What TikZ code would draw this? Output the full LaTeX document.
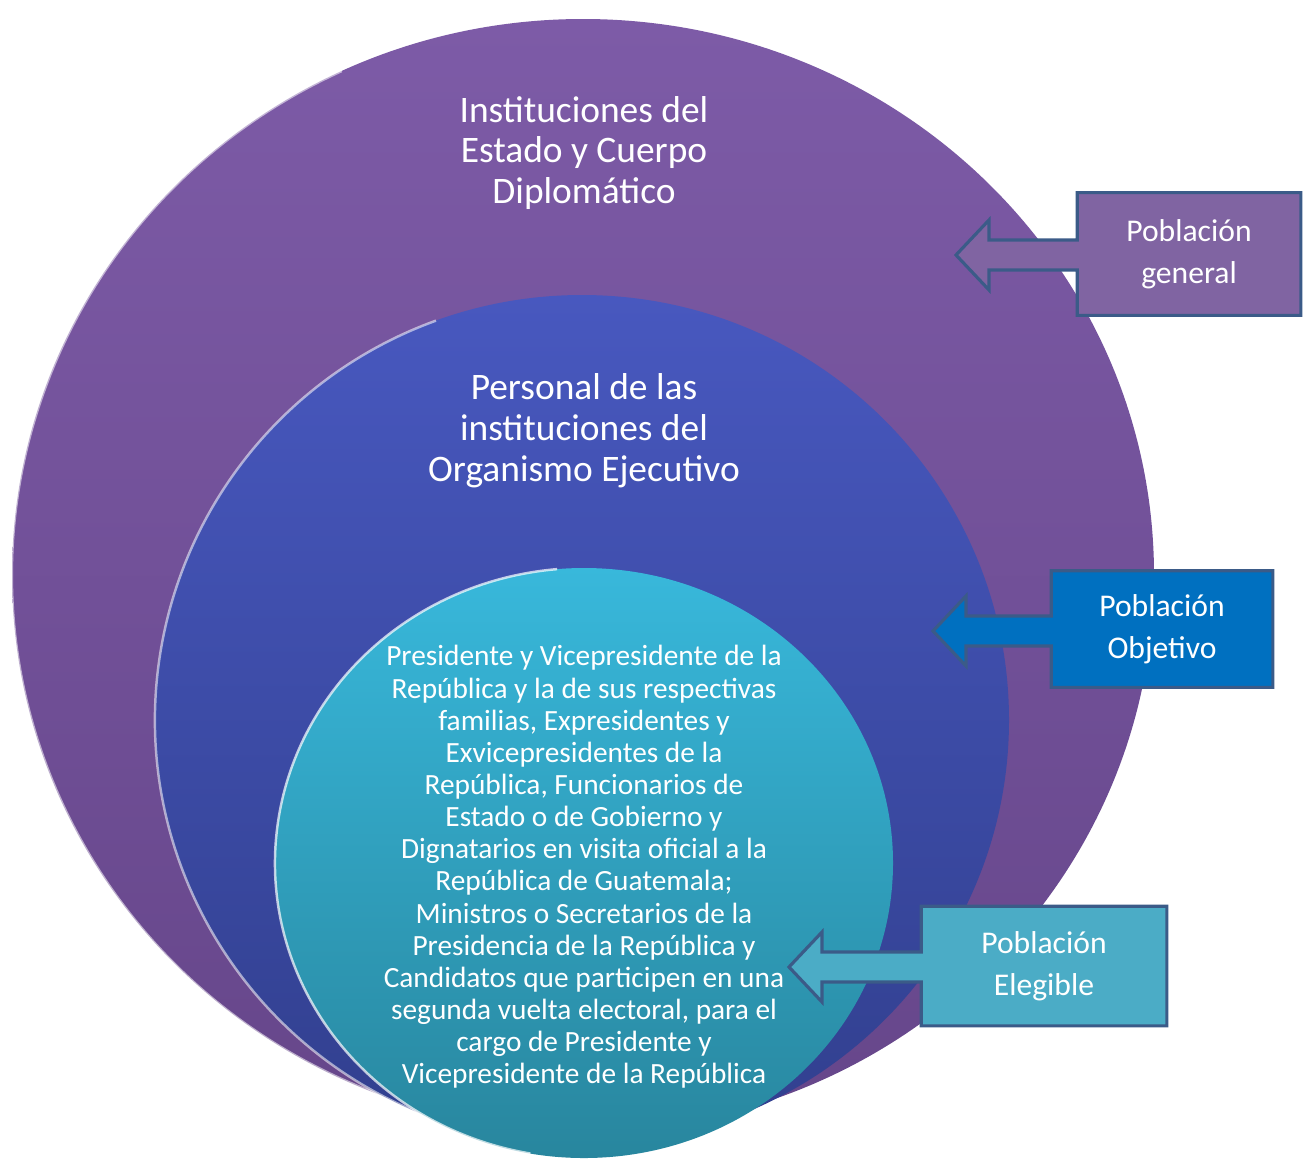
\documentclass[tikz,border=0pt]{standalone}
\usepackage{fontspec}
\setmainfont{Carlito}
\usetikzlibrary{calc,backgrounds}

\definecolor{outertop}{HTML}{7D5BA7}
\definecolor{outerbot}{HTML}{66468A}
\definecolor{midtop}{HTML}{4858BF}
\definecolor{midbot}{HTML}{313F8E}
\definecolor{innertop}{HTML}{38B8DB}
\definecolor{innerbot}{HTML}{28869E}
\definecolor{genfill}{HTML}{8064A2}
\definecolor{objfill}{HTML}{0070C0}
\definecolor{elefill}{HTML}{4BACC6}
\definecolor{calloutedge}{HTML}{3B5B88}

\tikzset{
  circtext/.style={text=white, align=center, font=\fontsize{21.3}{23.3}\selectfont},
  smalltext/.style={text=white, align=center, font=\fontsize{16.7}{18.3}\selectfont},
  boxtext/.style={text=white, align=center, font=\fontsize{18}{23.8}\selectfont,
    inner sep=0pt},
  callout/.style={draw=calloutedge, line width=1.8pt, line join=miter},
  gloss/.style={white, opacity=0.55, line width=1.4pt},
}

\begin{document}
\begin{tikzpicture}[x=0.02cm, y=-0.02cm]
  \useasboundingbox (0,0) rectangle (1310,1163);

  \node[circtext] (estado) at (584,153) {Instituciones del\\Estado y Cuerpo\\Diplomático};
  \node[circtext] (ejecutivo) at (584,431) {Personal de las\\instituciones del\\Organismo Ejecutivo};
  \node[smalltext] (elegibles) at (584,867) {Presidente y Vicepresidente de la\\República y la de sus respectivas\\familias, Expresidentes y\\Exvicepresidentes de la\\República, Funcionarios de\\Estado o de Gobierno y\\Dignatarios en visita oficial a la\\República de Guatemala;\\Ministros o Secretarios de la\\Presidencia de la República y\\Candidatos que participen en una\\segunda vuelta electoral, para el\\cargo de Presidente y\\Vicepresidente de la República};

  % callouts
  \node[boxtext, minimum width=4.46cm, minimum height=2.44cm] (general) at (1189,254) {Población\\general};
  \node[boxtext, minimum width=4.42cm, minimum height=2.32cm] (objetivo) at (1162,629) {Población\\Objetivo};
  \node[boxtext, minimum width=4.9cm, minimum height=2.38cm] (elegible) at (1044,966) {Población\\Elegible};

  \coordinate (gentip) at (956,255);
  \coordinate (objtip) at (933,631);
  \coordinate (eletip) at (789,967);

  \begin{scope}[on background layer]
    \fill[white] (0,0) rectangle (1310,1163);
    % the three sets
    \shade[top color=outertop, bottom color=outerbot] (583,575) ellipse [x radius=571, y radius=556];
    \draw[gloss] (583,575) ++(110:571 and 556) arc [start angle=110, end angle=245, x radius=571, y radius=556];
    \shade[top color=midtop, bottom color=midbot] (582,720) ellipse [x radius=427, y radius=425];
    \draw[gloss] (582,720) ++(105:427 and 425) arc [start angle=105, end angle=250, x radius=427, y radius=425];
    \shade[top color=innertop, bottom color=innerbot] (584,863) ellipse [x radius=309, y radius=295];
    \draw[gloss, opacity=0.7] (584,863) ++(100:309 and 295) arc [start angle=100, end angle=265, x radius=309, y radius=295];

    \foreach \callname/\tip/\col in {general/gentip/genfill, objetivo/objtip/objfill, elegible/eletip/elefill}{
      \filldraw[callout, fill=\col]
        (\callname.north west) -- (\callname.north east) -- (\callname.south east) -- (\callname.south west)
        -- (\callname.west |- {$(\tip)+(0,15)$}) -- ($(\tip)+(33,15)$) -- ($(\tip)+(33,35)$) -- (\tip)
        -- ($(\tip)+(33,-35)$) -- ($(\tip)+(33,-15)$) -- (\callname.west |- {$(\tip)+(0,-15)$}) -- cycle;
    }
  \end{scope}
\end{tikzpicture}
\end{document}
